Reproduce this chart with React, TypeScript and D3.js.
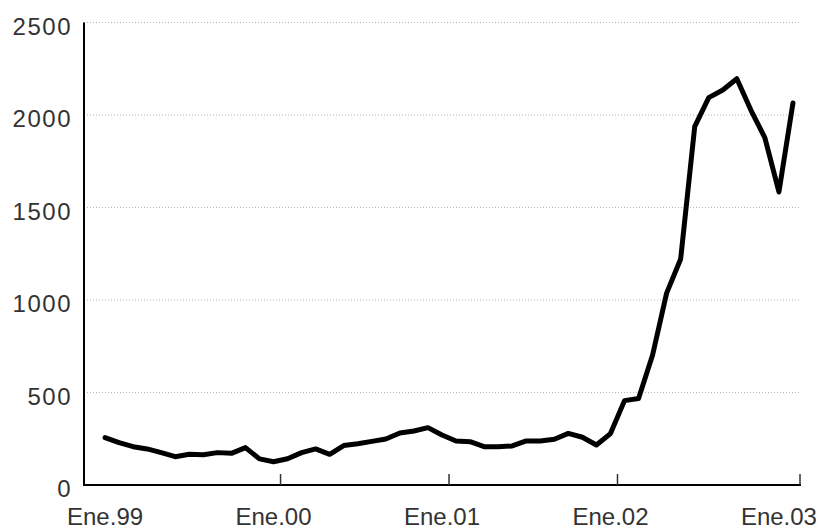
import * as d3 from "d3";

// monthly values, Ene.99 .. Feb.03
const values = [
  256, 229, 207, 195, 175, 153, 166, 164, 175, 171, 202, 141,
  126, 142, 175, 195, 166, 213, 223, 236, 249, 281, 292, 310,
  270, 238, 234, 207, 207, 211, 238, 238, 247, 279, 258, 216,
  278, 456, 468, 703, 1037, 1222, 1937, 2094, 2135, 2196, 2027, 1876,
  1584, 2065,
];
const xLabels = ["Ene.99", "Ene.00", "Ene.01", "Ene.02", "Ene.03"];
const yTicks = [0, 500, 1000, 1500, 2000, 2500];

const width = 818;
const height = 529;

export default function App() {
  const x = d3.scaleLinear().domain([-1.5, 49.5]).range([84, 800]);
  const y = d3.scaleLinear().domain([0, 2500]).range([485, 22.5]);

  const line = d3
    .line<number>()
    .x((_, i) => x(i))
    .y((d) => y(d))
    .curve(d3.curveLinear);

  const font = "'Liberation Sans', Arial, sans-serif";
  const textColor = "#333";

  return (
    <svg
      width={width}
      height={height}
      style={{ position: "absolute", left: 0, top: 0, background: "#fff" }}
    >
      {/* gridlines */}
      {yTicks
        .filter((t) => t > 0)
        .map((t) => (
          <line
            key={t}
            x1={x(-1.5)}
            x2={x(49.5)}
            y1={y(t)}
            y2={y(t)}
            stroke="#b5b5b5"
            strokeWidth={1}
            strokeDasharray="1,2"
          />
        ))}
      {/* y labels */}
      {yTicks.map((t) => (
        <text
          key={t}
          x={72}
          y={y(t) + 12}
          textAnchor="end"
          fontFamily={font}
          fontSize={24}
          letterSpacing={1.5}
          fill={textColor}
        >
          {t}
        </text>
      ))}
      {/* axes */}
      <line x1={x(-1.5)} x2={x(-1.5)} y1={y(2500)} y2={y(0) + 1} stroke="#000" strokeWidth={2} />
      <line x1={x(-1.5)} x2={x(49.5) + 1} y1={y(0)} y2={y(0)} stroke="#000" strokeWidth={2} />
      {[12.5, 24.5, 36.5, 49.5].map((t) => (
        <line
          key={t}
          x1={x(t)}
          x2={x(t)}
          y1={y(0)}
          y2={y(0) - 11}
          stroke="#333"
          strokeWidth={1.5}
        />
      ))}
      {/* x labels */}
      {xLabels.map((l, i) => (
        <text
          key={l}
          x={x(i * 12)}
          y={525}
          textAnchor="middle"
          fontFamily={font}
          fontSize={24}
          fill={textColor}
        >
          {l}
        </text>
      ))}
      {/* series */}
      <path
        d={line(values) ?? ""}
        fill="none"
        stroke="#000"
        strokeWidth={5}
        strokeLinejoin="round"
        strokeLinecap="round"
      />
    </svg>
  );
}
